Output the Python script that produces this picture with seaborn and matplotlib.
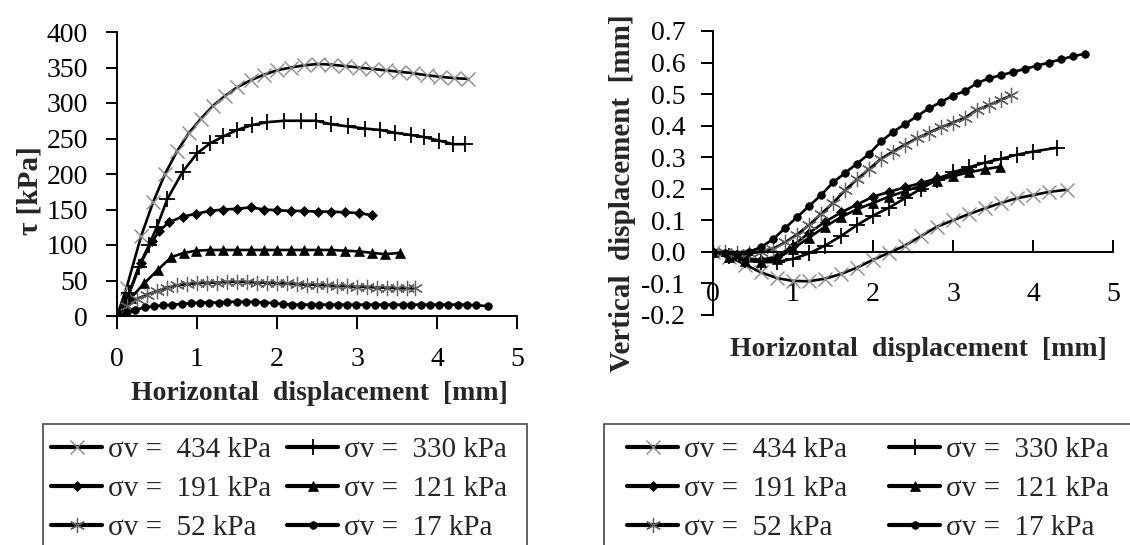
import matplotlib
matplotlib.use("Agg")
import matplotlib.pyplot as plt
import seaborn as sns
import pandas as pd
from matplotlib.patches import Rectangle
from matplotlib.ticker import FormatStrFormatter, MultipleLocator

# ---------------- data ----------------
# Left panel: shear stress tau [kPa] vs horizontal displacement [mm]
h434 = [0, 0.12, 0.3, 0.45, 0.6, 0.75, 0.9, 1.05, 1.2, 1.35, 1.5, 1.67, 1.84, 2.0, 2.17,
        2.34, 2.51, 2.68, 2.85, 3.02, 3.19, 3.36, 3.53, 3.7, 3.87, 4.04, 4.21, 4.39]
t434 = [0, 40, 112, 160, 200, 232, 258, 278, 296, 310, 322, 332, 340, 346, 350,
        353, 355, 354, 352, 350, 348, 346, 344, 342, 339, 337, 335, 334]

h330 = [0, 0.15, 0.27, 0.4, 0.5, 0.63, 0.82, 1.0, 1.16, 1.33, 1.5, 1.69, 1.88, 2.09, 2.3,
        2.49, 2.68, 2.89, 3.1, 3.29, 3.48, 3.67, 3.84, 4.03, 4.2, 4.35]
t330 = [0, 32, 69, 100, 126, 165, 203, 229, 243, 253, 262, 269, 273, 275, 275,
        275, 270, 267, 264, 262, 258, 255, 252, 247, 242, 242]

h191 = [0, 0.13, 0.3, 0.44, 0.53, 0.65, 0.82, 0.99, 1.16, 1.33, 1.5, 1.67, 1.84, 2.0,
        2.17, 2.34, 2.51, 2.68, 2.85, 3.02, 3.19]
t191 = [0, 25, 75, 105, 120, 132, 140, 144, 148, 150, 151, 153, 150, 149,
        148, 148, 147, 147, 146, 145, 142]

h121 = [0, 0.17, 0.34, 0.51, 0.68, 0.84, 0.99, 1.16, 1.33, 1.5, 1.67, 1.84, 2.0, 2.17,
        2.34, 2.51, 2.68, 2.85, 3.02, 3.19, 3.35, 3.54]
t121 = [0, 25, 46, 65, 83, 89, 92, 93, 93, 93, 93, 93, 93, 93,
        93, 93, 93, 92, 91, 89, 87, 89]

h52 = [0, 0.12, 0.25, 0.37, 0.5, 0.62, 0.75, 0.87, 1.0, 1.12, 1.25, 1.37, 1.5, 1.62,
       1.75, 1.87, 2.0, 2.12, 2.25, 2.37, 2.5, 2.62, 2.75, 2.87, 3.0, 3.12, 3.25,
       3.37, 3.5, 3.62, 3.72]
t52 = [0, 14, 24, 30, 35, 40, 43, 45, 46, 47, 47, 48, 48, 48,
       47, 47, 46, 46, 45, 44, 44, 43, 42, 42, 41, 41, 40,
       40, 39, 39, 39]

h17 = [0, 0.12, 0.23, 0.35, 0.46, 0.58, 0.69, 0.81, 0.92, 1.04, 1.15, 1.27, 1.38, 1.5,
       1.61, 1.73, 1.84, 1.96, 2.07, 2.19, 2.3, 2.42, 2.53, 2.65, 2.76, 2.88, 2.99,
       3.11, 3.22, 3.34, 3.45, 3.57, 3.68, 3.8, 3.91, 4.03, 4.14, 4.26, 4.37, 4.49, 4.64]
t17 = [0, 5, 9, 12, 14, 15, 16, 17, 18, 19, 19, 19, 20, 20,
       20, 20, 19, 18, 17, 16, 16, 16, 16, 16, 16, 16, 16,
       16, 16, 16, 16, 16, 16, 16, 16, 16, 16, 16, 16, 15, 14]

# Right panel: vertical displacement [mm] vs horizontal displacement [mm]
x434 = [0, 0.2, 0.4, 0.6, 0.8, 1.0, 1.2, 1.4, 1.6, 1.8, 2.0, 2.2, 2.4, 2.6, 2.8, 3.0,
        3.2, 3.4, 3.6, 3.8, 4.0, 4.2, 4.42]
v434 = [0, -0.015, -0.04, -0.065, -0.083, -0.092, -0.093, -0.085, -0.07, -0.05, -0.025,
        -0.003, 0.02, 0.05, 0.08, 0.1, 0.12, 0.138, 0.155, 0.17, 0.18, 0.19, 0.197]

x330 = [0, 0.2, 0.4, 0.6, 0.8, 1.0, 1.2, 1.4, 1.6, 1.8, 2.0, 2.2, 2.4, 2.6, 2.8, 3.0,
        3.2, 3.4, 3.6, 3.8, 4.0, 4.3]
v330 = [0, -0.012, -0.025, -0.033, -0.032, -0.022, -0.005, 0.02, 0.05, 0.085, 0.115,
        0.14, 0.17, 0.2, 0.228, 0.252, 0.268, 0.283, 0.295, 0.308, 0.318, 0.33]

x191 = [0, 0.2, 0.4, 0.6, 0.8, 1.0, 1.2, 1.4, 1.6, 1.8, 2.0, 2.2, 2.4, 2.6, 2.8, 3.0, 3.2]
v191 = [0, -0.01, -0.02, -0.025, -0.015, 0.02, 0.06, 0.095, 0.125, 0.15, 0.175, 0.19,
        0.205, 0.218, 0.233, 0.248, 0.26]

x121 = [0, 0.2, 0.4, 0.6, 0.8, 1.0, 1.2, 1.4, 1.6, 1.8, 2.0, 2.2, 2.4, 2.6, 2.8, 3.0,
        3.2, 3.4, 3.59]
v121 = [0, -0.015, -0.028, -0.032, -0.022, 0.01, 0.045, 0.08, 0.11, 0.135, 0.155, 0.175,
        0.192, 0.21, 0.226, 0.24, 0.252, 0.262, 0.27]

x52 = [0, 0.15, 0.3, 0.45, 0.6, 0.75, 0.9, 1.05, 1.2, 1.35, 1.5, 1.65, 1.8, 1.95, 2.1,
       2.25, 2.4, 2.55, 2.7, 2.85, 3.0, 3.15, 3.3, 3.45, 3.6, 3.73]
v52 = [0, 0.0, -0.005, -0.005, 0.0, 0.01, 0.03, 0.055, 0.085, 0.12, 0.155, 0.195, 0.23,
       0.262, 0.295, 0.318, 0.34, 0.36, 0.378, 0.395, 0.41, 0.425, 0.45, 0.465, 0.482, 0.496]

x17 = [0, 0.15, 0.3, 0.45, 0.6, 0.75, 0.9, 1.05, 1.2, 1.35, 1.5, 1.65, 1.8, 1.95, 2.1,
       2.25, 2.4, 2.55, 2.7, 2.85, 3.0, 3.15, 3.3, 3.45, 3.6, 3.75, 3.9, 4.05, 4.2, 4.35,
       4.5, 4.65]
v17 = [0, -0.005, -0.008, 0.0, 0.015, 0.04, 0.075, 0.11, 0.145, 0.18, 0.22, 0.25, 0.28,
       0.31, 0.35, 0.38, 0.405, 0.43, 0.455, 0.475, 0.495, 0.51, 0.535, 0.55, 0.56, 0.57,
       0.58, 0.59, 0.6, 0.61, 0.62, 0.628]

series_keys = ["434", "330", "191", "121", "52", "17"]
legend_labels = ["σv =  434 kPa", "σv =  330 kPa", "σv =  191 kPa",
                 "σv =  121 kPa", "σv =  52 kPa", "σv =  17 kPa"]

left_series = {"434": (h434, t434), "330": (h330, t330), "191": (h191, t191),
               "121": (h121, t121), "52": (h52, t52), "17": (h17, t17)}
right_series = {"434": (x434, v434), "330": (x330, v330), "191": (x191, v191),
                "121": (x121, v121), "52": (x52, v52), "17": (x17, v17)}

# ---------------- style ----------------
styles = {
    "434": dict(marker="x", markersize=10, markeredgecolor="#8a8a8a", markerfacecolor="none", markeredgewidth=1.0),
    "330": dict(marker="+", markersize=12, markeredgecolor="black", markerfacecolor="none", markeredgewidth=1.3),
    "191": dict(marker="D", markersize=5, markeredgecolor="black", markerfacecolor="black", markeredgewidth=0.5),
    "121": dict(marker="^", markersize=7.5, markeredgecolor="black", markerfacecolor="black", markeredgewidth=0.5),
    "52": dict(marker=(6, 2, 0), markersize=11, markeredgecolor="#606060", markerfacecolor="none", markeredgewidth=0.9),
    "17": dict(marker="o", markersize=5.5, markeredgecolor="black", markerfacecolor="black", markeredgewidth=0.5),
}

sns.set_theme(style="white")
plt.rcParams["font.family"] = ["Liberation Serif", "DejaVu Serif"]
plt.rcParams["axes.unicode_minus"] = False

FS = 20
W, H = 1130, 545
fig = plt.figure(figsize=(W / 100, H / 100), dpi=100)

def fx(px):
    return px / W

def fy(py):
    return 1 - py / H

axL = fig.add_axes([fx(117), fy(316), fx(517) - fx(117), fy(32) - fy(316)])
axR = fig.add_axes([fx(713), fy(315), fx(1113) - fx(713), fy(31) - fy(315)])

for key, lab in zip(series_keys, legend_labels):
    xs, ys = left_series[key]
    df = pd.DataFrame({"x": xs, "y": ys})
    sns.lineplot(data=df, x="x", y="y", ax=axL, color="black", linewidth=1.9,
                 sort=False, estimator=None, label=lab, **styles[key])
    xs, ys = right_series[key]
    df = pd.DataFrame({"x": xs, "y": ys})
    sns.lineplot(data=df, x="x", y="y", ax=axR, color="black", linewidth=1.9,
                 sort=False, estimator=None, label=lab, **styles[key])

for ax in (axL, axR):
    for s in ("top", "right"):
        ax.spines[s].set_visible(False)
    for s in ("left", "bottom"):
        ax.spines[s].set_color("black")
        ax.spines[s].set_linewidth(1.4)
    ax.set_xlim(0, 5)
    ax.xaxis.set_major_locator(MultipleLocator(1))
    ax.grid(False)
    if ax.get_legend() is not None:
        ax.get_legend().remove()

# Left axes
axL.set_ylim(0, 400)
axL.yaxis.set_major_locator(MultipleLocator(50))
axL.tick_params(axis="y", direction="out", length=8, width=1.4, pad=13, labelsize=FS, left=True, colors="black")
axL.tick_params(axis="x", direction="out", length=9, width=1.4, pad=13, labelsize=FS, bottom=True, colors="black")
axL.set_xlabel("Horizontal  displacement  [mm]", fontsize=FS, fontweight="bold", va="center")
axL.xaxis.set_label_coords(0.507, -0.274)
axL.set_ylabel("τ [kPa]", fontsize=FS + 1, fontweight="bold", va="center")
axL.yaxis.set_label_coords(-0.218, 0.44)

# Right axes
axR.set_ylim(-0.2, 0.7)
axR.yaxis.set_major_locator(MultipleLocator(0.1))
axR.yaxis.set_major_formatter(FormatStrFormatter("%.1f"))
axR.spines["bottom"].set_position(("data", 0))
axR.tick_params(axis="y", direction="out", length=9, width=1.4, pad=11, labelsize=FS, left=True, colors="black")
axR.tick_params(axis="x", direction="in", length=9, width=1.4, pad=22, labelsize=FS, bottom=True, colors="black")
axR.set_xlabel("Horizontal  displacement  [mm]", fontsize=FS, fontweight="bold", va="center")
axR.xaxis.set_label_coords(0.513, -0.123)
axR.set_ylabel("Vertical  displacement  [mm]", fontsize=21, fontweight="bold", va="center")
axR.yaxis.set_label_coords(-0.225, 0.43)

# Legends (column-major order: 434,191,52 | 330,121,17)
order = [0, 2, 4, 1, 3, 5]
LFS = 21

def make_legend(ax, anchor_x, colspace):
    handles, labels = ax.get_legend_handles_labels()
    handles = [handles[i] for i in order]
    labels = [labels[i] for i in order]
    leg = ax.legend(handles, labels, ncol=2, loc="upper left",
                    bbox_to_anchor=(fx(anchor_x), fy(437)), bbox_transform=fig.transFigure,
                    frameon=False, fontsize=LFS, handlelength=1.75, handletextpad=0.2,
                    columnspacing=colspace, labelspacing=0.42, borderpad=0, borderaxespad=0)
    for ln in leg.get_lines():
        ln.set_linewidth(3)
    return leg

make_legend(axL, 51, 0.55)
make_legend(axR, 627, 1.45)

fig.add_artist(Rectangle((fx(42.5), -0.05), fx(526.5) - fx(42.5), fy(424) + 0.05,
                         transform=fig.transFigure, fill=False, edgecolor="#555555", linewidth=1.3))
fig.add_artist(Rectangle((fx(604), -0.05), fx(1145) - fx(604), fy(424) + 0.05,
                         transform=fig.transFigure, fill=False, edgecolor="#555555", linewidth=1.3))

fig.savefig("out.png", dpi=100, facecolor="white")
